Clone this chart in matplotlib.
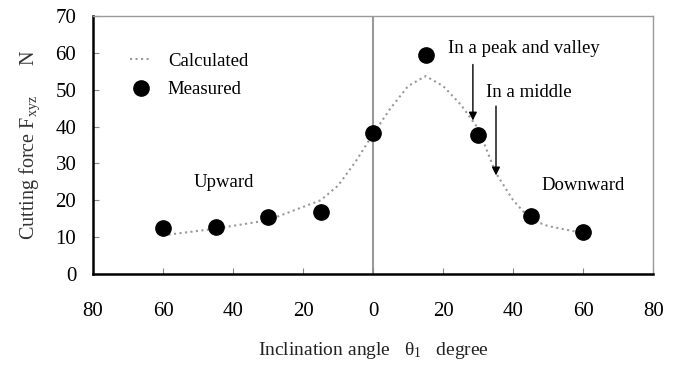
import numpy as np
import matplotlib
matplotlib.use("Agg")
import matplotlib.pyplot as plt

plt.rcParams['font.family'] = ['Liberation Serif', 'DejaVu Serif']
plt.rcParams['mathtext.fontset'] = 'custom'
plt.rcParams['mathtext.rm'] = 'Liberation Serif'
plt.rcParams['mathtext.it'] = 'Liberation Serif:italic'

# measured points
meas_x = [-60, -45, -30, -15, 0, 15, 30, 45, 60]
meas_y = [12.5, 12.7, 15.5, 16.7, 38.2, 59.4, 37.7, 15.7, 11.3]

# calculated curve
calc_x = [-60, -45, -30, -15, -10, -5, 0, 5, 10, 15, 20, 25, 30, 35, 40, 45, 50, 60]
calc_y = [10.5, 12.3, 14.6, 20.0, 24.0, 30.5, 38.0, 45.0, 51.0, 53.7, 51.0, 46.0, 39.5, 27.5, 20.0, 14.8, 13.0, 11.1]

xticks = [-80, -60, -40, -20, 0, 20, 40, 60, 80]
xtick_labels = ['80', '60', '40', '20', '0', '20', '40', '60', '80']
yticks = [0, 10, 20, 30, 40, 50, 60, 70]

fig = plt.figure(figsize=(6.79, 3.68), dpi=100)
ax = fig.add_axes([0.137, 0.2554, 0.825, 0.7011])

ax.axvline(0, color='#999999', lw=1.5, zorder=1)
ax.plot(calc_x, calc_y, ls=':', color='#999999', lw=1.5, label='Calculated', zorder=2)
ax.plot(meas_x, meas_y, 'o', color='black', ms=11, ls='none', label='Measured', zorder=3)

ax.set_xlim(-80, 80)
ax.set_ylim(0, 70)
ax.set_xticks(xticks)
ax.set_xticklabels(xtick_labels)
ax.set_yticks(yticks)
ax.tick_params(axis='both', direction='in', length=4, color='#888888', labelsize=15)
ax.tick_params(axis='x', pad=20)
ax.tick_params(axis='y', pad=12)

for s in ['left', 'bottom']:
    ax.spines[s].set_linewidth(1.8)
    ax.spines[s].set_color('black')
for s in ['top', 'right']:
    ax.spines[s].set_linewidth(1.0)
    ax.spines[s].set_color('#999999')

ax.legend(loc='upper left', bbox_to_anchor=(0.05, 0.895), frameon=False, fontsize=13.5,
          handlelength=1.1, handletextpad=0.9, labelspacing=0.62, borderpad=0)

ax.text(-51.4, 24.8, 'Upward', fontsize=13.5, va='center', ha='left')
ax.text(48, 23.9, 'Downward', fontsize=13.5, va='center', ha='left')
ax.text(21.4, 61.3, 'In a peak and valley', fontsize=13.5, va='center', ha='left')
ax.text(32.3, 49.2, 'In a middle', fontsize=13.5, va='center', ha='left')
ax.annotate('', xy=(28.5, 40.9), xytext=(28.5, 57.6),
            arrowprops=dict(arrowstyle='-|>', color='black', lw=1.0, mutation_scale=12))
ax.annotate('', xy=(35.1, 26.0), xytext=(35.1, 46.3),
            arrowprops=dict(arrowstyle='-|>', color='black', lw=1.0, mutation_scale=12))

ax.set_xlabel('Inclination angle   θ$_1$   degree', fontsize=14, labelpad=14, color='#222222')
ax.set_ylabel(r'Cutting force F$_{\rm xyz}$      N', fontsize=14.5, labelpad=10, color='#333333')

fig.savefig('out.png', dpi=100)
